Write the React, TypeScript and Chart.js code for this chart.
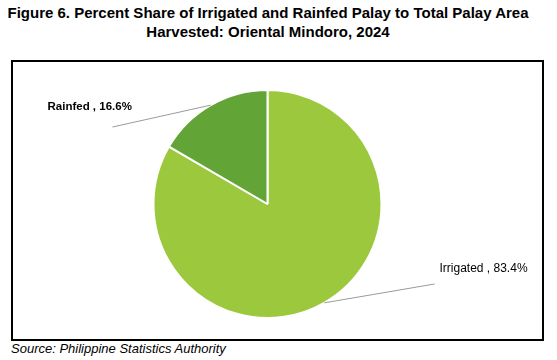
import React, { useEffect, useRef } from "react";
import { Chart, registerables } from "chart.js";

Chart.register(...registerables);

const categories = ["Irrigated", "Rainfed"];
const shares = [83.4, 16.6];
const colors = ["#9BC83C", "#62A536"];
const titleLines = [
  "Figure 6. Percent Share of Irrigated and Rainfed Palay to Total Palay Area",
  "Harvested: Oriental Mindoro, 2024",
];
const sourceText = "Source: Philippine Statistics Authority";

// label layout: offset of leader-line end (relative to pie centre), text anchor offset
const labelLayout = [
  { lineEnd: [167, 80], text: [172, 65], bold: false, size: 12 },
  { lineEnd: [-155, -77], text: [-220, -97], bold: true, size: 11.5 },
];

const leaderPlugin = {
  id: "leaders",
  afterDraw(chart: any) {
    const ctx = chart.ctx;
    const meta = chart.getDatasetMeta(0);
    meta.data.forEach((arc: any, i: number) => {
      const { x, y, startAngle, endAngle, outerRadius } = arc.getProps(
        ["x", "y", "startAngle", "endAngle", "outerRadius"],
        true
      );
      const mid = (startAngle + endAngle) / 2;
      const px = x + Math.cos(mid) * outerRadius;
      const py = y + Math.sin(mid) * outerRadius;
      const lay = labelLayout[i];
      ctx.save();
      ctx.strokeStyle = "#9a9a9a";
      ctx.lineWidth = 1;
      ctx.beginPath();
      ctx.moveTo(px, py);
      ctx.lineTo(x + lay.lineEnd[0], y + lay.lineEnd[1]);
      ctx.stroke();
      ctx.fillStyle = "#000";
      ctx.font = `${lay.bold ? "bold " : ""}${lay.size}px "Liberation Sans", Arial, sans-serif`;
      ctx.textBaseline = "middle";
      ctx.textAlign = "left";
      const label = `${categories[i]} , ${shares[i].toFixed(1)}%`;
      ctx.fillText(label, x + lay.text[0], y + lay.text[1]);
      ctx.restore();
    });
  },
};

export default function App() {
  const ref = useRef<HTMLCanvasElement>(null);
  useEffect(() => {
    if (!ref.current) return;
    const chart = new Chart(ref.current, {
      type: "pie",
      data: {
        labels: categories,
        datasets: [
          {
            data: shares,
            backgroundColor: colors,
            borderColor: "#ffffff",
            borderWidth: 2,
          },
        ],
      },
      options: {
        animation: false,
        responsive: false,
        maintainAspectRatio: false,
        rotation: 0,
        layout: { padding: { top: 27, bottom: 18, left: 139.5, right: 157.5 } },
        plugins: {
          legend: { display: false },
          tooltip: { enabled: false },
          title: { display: false },
        },
      },
      plugins: [leaderPlugin],
    });
    return () => chart.destroy();
  }, []);

  return (
    <div
      style={{
        position: "absolute",
        left: 0,
        top: 0,
        width: 557,
        height: 360,
        background: "#fff",
        fontFamily: '"Liberation Sans", Arial, sans-serif',
      }}
    >
      <div
        style={{
          position: "absolute",
          left: 0,
          top: 3,
          width: 536,
          textAlign: "center",
          fontWeight: "bold",
          fontSize: 15,
          lineHeight: "19px",
          color: "#000",
        }}
      >
        {titleLines.map((t, i) => (
          <div key={i}>{t}</div>
        ))}
      </div>
      <div
        style={{
          position: "absolute",
          left: 11,
          top: 60,
          width: 529,
          height: 277,
          border: "2px solid #000",
        }}
      >
        <canvas ref={ref} width={527} height={275} style={{ display: "block", width: 527, height: 275 }} />
      </div>
      <div
        style={{
          position: "absolute",
          left: 11,
          top: 341,
          fontStyle: "italic",
          fontSize: 13,
          color: "#000",
        }}
      >
        {sourceText}
      </div>
    </div>
  );
}
